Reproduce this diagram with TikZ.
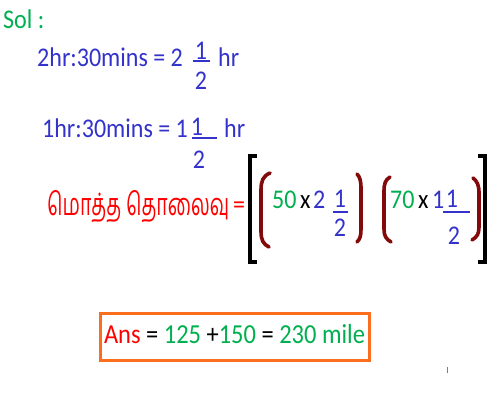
\documentclass[tikz,border=0pt]{standalone}
\usepackage{fontspec}
\setmainfont[FakeStretch=0.89]{Carlito}
\newfontfamily\tamilfont[Script=Tamil]{Hind Madurai}
\definecolor{cgreen}{RGB}{0,176,80}
\definecolor{cblue}{RGB}{51,51,204}
\definecolor{cred}{RGB}{255,0,0}
\definecolor{cparen}{RGB}{130,10,10}
\definecolor{corange}{RGB}{250,110,30}
\begin{document}
\begin{tikzpicture}[x=1pt,y=-1pt,
  txt/.style={inner sep=0pt, anchor=base west, font=\fontsize{27}{30}\selectfont},
  ctxt/.style={txt, anchor=base},
  fbar/.style={cblue, line width=2.4pt},
  brk/.style={black, line width=3.5pt},
  par/.style={cparen, line width=3.6pt, line cap=round}]
\useasboundingbox (0,0) rectangle (500,400);
\fill[white] (0,0) rectangle (500,400);

\node[txt, text=cgreen] (sol) at (3,28) {Sol :};

% line 1
\node[txt, text=cblue] (l1) at (37,66) {2hr:30mins = 2};
\node[ctxt, text=cblue] (n1) at (201,59) {1};
\coordinate (b1a) at (193,61); \coordinate (b1b) at (210,61);
\draw[fbar] (b1a) -- (b1b);
\node[ctxt, text=cblue] (d1) at (201,89) {2};
\node[txt, text=cblue] (h1) at (218,66) {hr};

% line 2
\node[txt, text=cblue] (l2) at (42,137) {1hr:30mins = 1};
\node[ctxt, text=cblue] (n2) at (197,135) {1};
\coordinate (b2a) at (192,138); \coordinate (b2b) at (217,138);
\draw[fbar] (b2a) -- (b2b);
\node[ctxt, text=cblue] (d2) at (199,168) {2};
\node[txt, text=cblue] (h2) at (224,137) {hr};

% total distance
\node[txt, text=cred, font=\fontsize{24}{28}\tamilfont] (tam) at (47,215) {\resizebox{182pt}{25pt}{மொத்த தொலைவு}};
\node[txt, text=cred] (eq) at (233,213) {=};

% big brackets
\coordinate (lb1) at (257,156); \coordinate (lb2) at (250,156);
\coordinate (lb3) at (250,262); \coordinate (lb4) at (257,262);
\draw[brk] (lb1) -- (lb2) -- (lb3) -- (lb4);
\coordinate (rb1) at (478,156); \coordinate (rb2) at (485,156);
\coordinate (rb3) at (485,262); \coordinate (rb4) at (478,262);
\draw[brk] (rb1) -- (rb2) -- (rb3) -- (rb4);

% parens group 1
\coordinate (p1a) at (270,173); \coordinate (p1b) at (269,247);
\draw[par] (p1a) .. controls (263,176) and (261,181) .. (261,190) -- (261,231)
  .. controls (261,240) and (263,244) .. (p1b);
\coordinate (p2a) at (357,174); \coordinate (p2b) at (357,242);
\draw[par] (p2a) .. controls (360,177) and (361,181) .. (361,189) -- (361,229)
  .. controls (361,236) and (360,239) .. (p2b);
% parens group 2
\coordinate (p3a) at (390,177); \coordinate (p3b) at (391,242);
\draw[par] (p3a) .. controls (385,180) and (384,184) .. (384,192) -- (384,229)
  .. controls (384,236) and (386,239) .. (p3b);
\coordinate (p4a) at (473,178); \coordinate (p4b) at (472,240);
\draw[par] (p4a) .. controls (477,181) and (479,185) .. (479,193) -- (479,227)
  .. controls (479,234) and (477,237) .. (p4b);

% group 1 content
\node[txt, text=cgreen] (g1a) at (272,208) {50};
\node[txt, text=black] (g1x) at (300,208) {x};
\node[txt, text=cblue] (g1b) at (313,208) {2};
\node[ctxt, text=cblue] (g1n) at (340,207) {1};
\coordinate (b3a) at (333,212); \coordinate (b3b) at (348,212);
\draw[fbar] (b3a) -- (b3b);
\node[ctxt, text=cblue] (g1d) at (340,236) {2};

% group 2 content
\node[txt, text=cgreen] (g2a) at (390,208) {70};
\node[txt, text=black] (g2x) at (418,208) {x};
\node[txt, text=cblue] (g2b) at (432,208) {1};
\node[ctxt, text=cblue] (g2n) at (452,207) {1};
\coordinate (b4a) at (443,212); \coordinate (b4b) at (470,212);
\draw[fbar] (b4a) -- (b4b);
\node[ctxt, text=cblue] (g2d) at (454,244) {2};

% answer box
\node[draw=corange, line width=3pt, inner ysep=0pt, text height=30pt, text depth=17pt,
      minimum width=269pt, anchor=base, font=\fontsize{27.5}{30}\selectfont] (ans) at (234.5,343)
  {\textcolor{cred}{Ans} = \textcolor{cgreen}{125} +\textcolor{cgreen}{150} = \textcolor{cgreen}{230 mile}};

% small mark
\coordinate (tk1) at (447,367); \coordinate (tk2) at (447,373);
\draw[cblue!70, line width=1pt] (tk1) -- (tk2);
\end{tikzpicture}
\end{document}
